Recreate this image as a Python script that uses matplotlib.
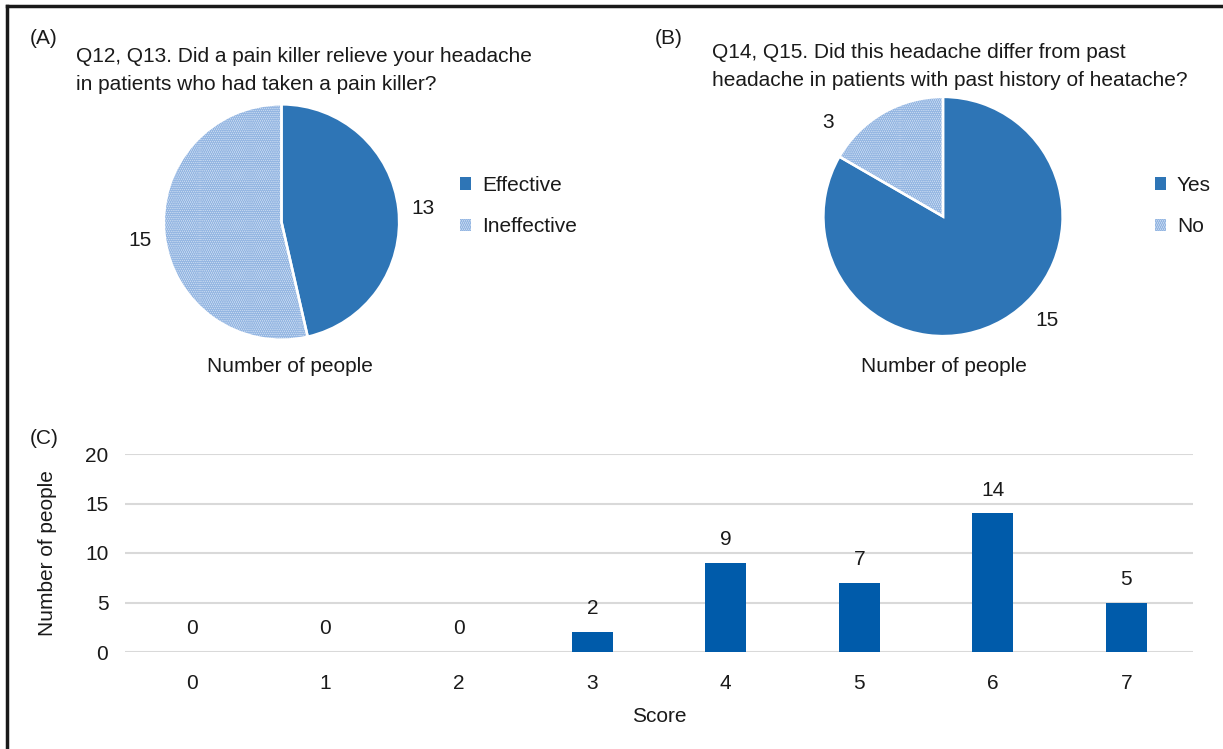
import matplotlib
matplotlib.use("Agg")
import matplotlib.pyplot as plt
from matplotlib.lines import Line2D

plt.rcParams["font.family"] = ["Liberation Sans", "DejaVu Sans"]
plt.rcParams["hatch.linewidth"] = 1.6

# (A) pain killer effect
a_labels = ["Effective", "Ineffective"]
a_values = [13, 15]
# (B) different from past headache
b_labels = ["Yes", "No"]
b_values = [15, 3]
# (C) score distribution
scores = [0, 1, 2, 3, 4, 5, 6, 7]
people = [0, 0, 0, 2, 9, 7, 14, 5]

DARK = "#2E75B6"
LIGHT = "#CCDDF2"
DOTS = "#94B6E2"
BAR = "#005BAA"
FS = 15

W, H = 1223, 749
fig = plt.figure(figsize=(W / 100, H / 100), dpi=100)


def rect(left, top, right, bottom):
    return [left / W, 1 - bottom / H, (right - left) / W, (bottom - top) / H]


def ftext(x, y, s, **kw):
    kw.setdefault("fontsize", FS)
    kw.setdefault("va", "center")
    fig.text(x / W, 1 - y / H, s, color="#1a1a1a", **kw)


def draw_pie(cx, cy, r, values, labels, light_idx, label_pos, leg_x, leg_y):
    ax = fig.add_axes(rect(cx - r, cy - r, cx + r, cy + r))
    colors = [LIGHT if i == light_idx else DARK for i in range(len(values))]
    wedges, texts = ax.pie(values, colors=colors, startangle=90, counterclock=False,
                           labels=[str(v) for v in values], labeldistance=1.2,
                           textprops=dict(fontsize=FS, color="#1a1a1a"),
                           wedgeprops=dict(linewidth=0))
    w = wedges[light_idx]
    w.set_hatch("........")
    w.set_edgecolor(DOTS)
    w.set_linewidth(0)
    # white separators on top
    ax.pie(values, colors=["none"] * len(values), startangle=90, counterclock=False,
           wedgeprops=dict(linewidth=1.8, edgecolor="white"))
    for t, (px, py) in zip(texts, label_pos):
        t.set_transform(fig.transFigure)
        t.set_position((px / W, 1 - py / H))
        t.set_ha("center")
        t.set_va("center")
    ax.set_xlim(-1.02, 1.02)
    ax.set_ylim(-1.02, 1.02)
    leg = ax.legend(wedges, labels, loc="center left", frameon=False, fontsize=FS,
                    bbox_to_anchor=(leg_x / W, 1 - leg_y / H), bbox_transform=fig.transFigure,
                    borderaxespad=0, borderpad=0, handlelength=0.55, handleheight=0.55,
                    handletextpad=0.5, labelspacing=1.08)
    for t in leg.get_texts():
        t.set_color("#1a1a1a")
    return ax


draw_pie(281.5, 222, 120, a_values, a_labels, 1, [(423, 208), (140, 241)], 460, 206)
draw_pie(943, 216.5, 122, b_values, b_labels, 1, [(1047, 321), (828, 123)], 1155, 206)

ftext(30, 38, "(A)")
ftext(76, 70, "Q12, Q13. Did a pain killer relieve your headache\n"
      "in patients who had taken a pain killer?", linespacing=1.6)
ftext(290, 366, "Number of people", ha="center")
ftext(655, 38, "(B)")
ftext(712, 67, "Q14, Q15. Did this headache differ from past\n"
      "headache in patients with past history of heatache?", linespacing=1.6)
ftext(944, 366, "Number of people", ha="center")
ftext(30, 438, "(C)")

# (C) bar chart
ax = fig.add_axes(rect(125, 454, 1193, 652))
bars = ax.bar(scores, people, width=0.31, color=BAR, zorder=3)
for b, v in zip(bars, people):
    ax.annotate(str(v), (b.get_x() + b.get_width() / 2, v), xytext=(0, 10),
                textcoords="offset points", ha="center", va="bottom", fontsize=FS,
                color="#1a1a1a")
ax.set_xlim(-0.5, 7.5)
ax.set_ylim(0, 20)
ax.set_yticks([0, 5, 10, 15, 20])
ax.set_xticks(scores)
ax.grid(axis="y", color="#D9D9D9", linewidth=1.5, zorder=0)
for s in ax.spines.values():
    s.set_visible(False)
ax.tick_params(length=0, labelsize=FS, colors="#1a1a1a")
ax.tick_params(axis="y", pad=12)
ax.tick_params(axis="x", pad=16)
ax.set_xlabel("Score", fontsize=FS, labelpad=10, color="#1a1a1a")
ax.set_ylabel("Number of people", fontsize=FS, labelpad=20, color="#1a1a1a")

# frame remnants (top and left edge)
fig.add_artist(Line2D([7 / W, 1], [1 - 6 / H, 1 - 6 / H], color="#1a1a1a", lw=2.5,
                      transform=fig.transFigure))
fig.add_artist(Line2D([7 / W, 7 / W], [0, 1 - 6 / H], color="#1a1a1a", lw=2.5,
                      transform=fig.transFigure))

fig.savefig("out.png", dpi=100)
